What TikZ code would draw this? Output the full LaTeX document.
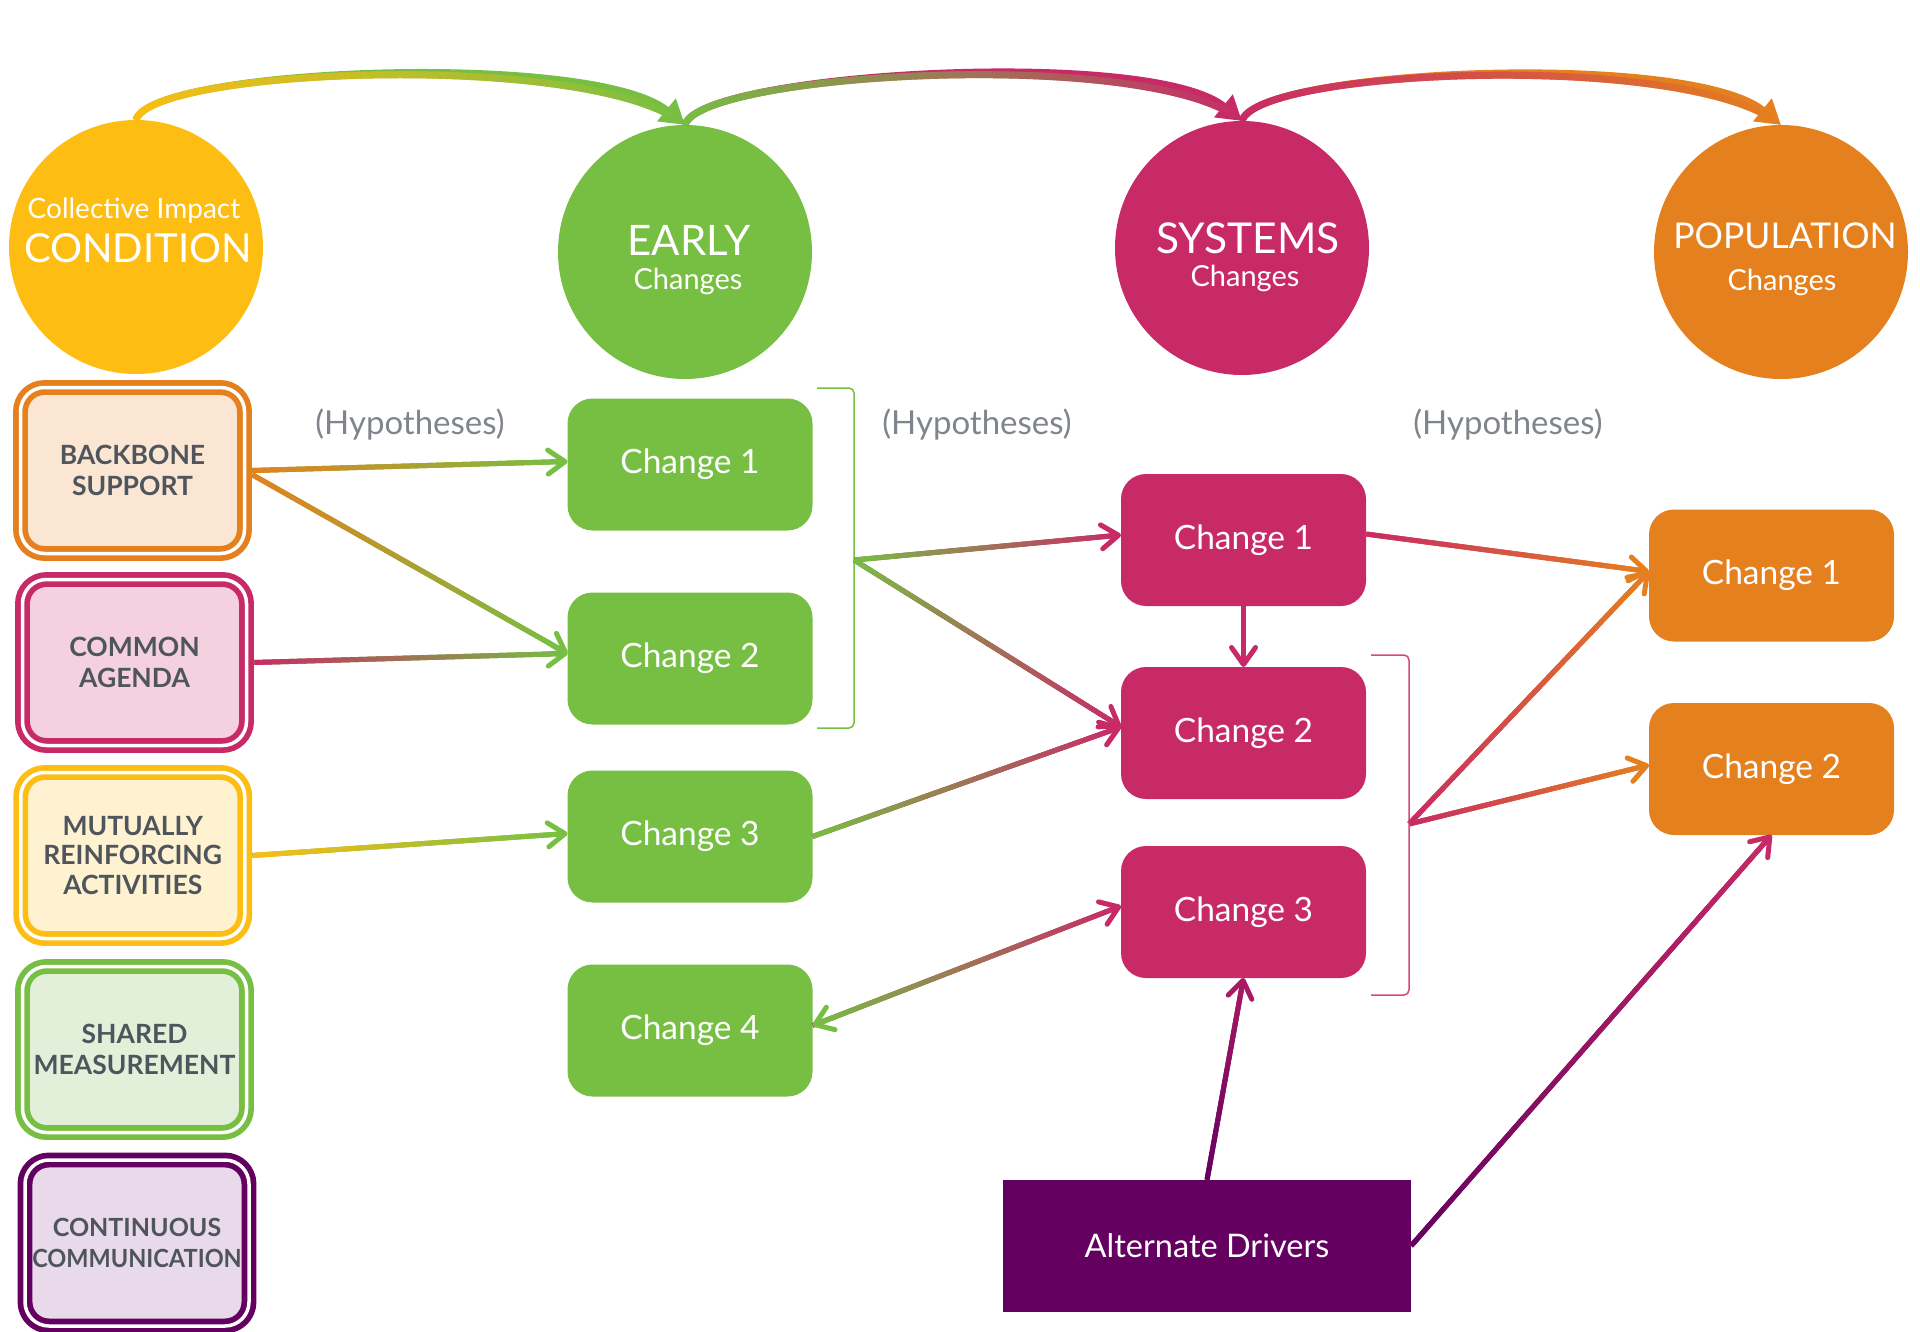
\documentclass[tikz,border=0pt]{standalone}
\usepackage{fontspec}
\usepackage{graphicx}
\setmainfont{Lato}
\usetikzlibrary{arrows.meta,decorations.markings,calc}
\definecolor{yellowC}{HTML}{FDBD13}
\definecolor{greenC}{HTML}{76BF43}
\definecolor{magentaC}{HTML}{C82A67}
\definecolor{orangeC}{HTML}{E5801F}
\definecolor{purpleC}{HTML}{630060}
\definecolor{bbFill}{HTML}{FBE5D3}
\definecolor{caFill}{HTML}{F5D1E0}
\definecolor{mrFill}{HTML}{FEF2D0}
\definecolor{smFill}{HTML}{E2F0DA}
\definecolor{ccFill}{HTML}{E8DAEA}
\definecolor{textC}{HTML}{4F555C}
\definecolor{hypC}{HTML}{80858D}
\definecolor{midPurple}{HTML}{A81A63}
\definecolor{brkPink}{HTML}{D4477F}
\begin{document}
\begin{tikzpicture}[x=1pt,y=-1pt,
  circ/.style={circle, minimum size=254pt, inner sep=0pt, outer sep=0pt},
  chg/.style={fill=#1, rounded corners=25pt, minimum width=245pt, minimum height=132pt,
    inner sep=0pt, outer sep=0pt, text=white, font=\fontsize{33.5pt}{40pt}\selectfont,
    text height=18pt, text depth=0pt},
  lbox/.style 2 args={draw=#1, fill=#2, double=white, double distance=3.5pt, line width=5.7pt,
    rounded corners=24pt, minimum width=224pt, minimum height=166pt, outer sep=7.5pt,
    align=center, text=textC, font=\bfseries\fontsize{26.5pt}{30.5pt}\selectfont},
  wt/.style={text=white, inner sep=0pt, anchor=base},
  hyp/.style={text=hypC, inner sep=0pt, anchor=base, font=\fontsize{33pt}{36pt}\selectfont},
  barb/.tip={Straight Barb[length=17pt,width=24pt,round]},
  arr/.style={line width=5pt, -barb},
  arcarr/.style={line width=7pt, -{Triangle[length=24pt,width=28pt]}},
  gradpath/.style n args={5}{% start col, end col, width, start pos, end pos
    decoration={markings,
      mark=between positions #4 and #5 step 1.5pt with {%
        \pgfmathsetmacro\gpct{(\pgfkeysvalueof{/pgf/decoration/mark info/distance from start}/\pgfdecoratedpathlength)*100}%
        \draw[line width=#3, draw={#2!\gpct!#1}] (-1.2pt,0pt) -- (1.2pt,0pt);
      }},
    decorate}
]
\useasboundingbox (0,0) rectangle (1920,1332);

% circles
\node[circ, fill=yellowC] (cond) at (136,247) {};
\node[circ, fill=greenC] (early) at (685,252) {};
\node[circ, fill=magentaC] (sys) at (1242,248) {};
\node[circ, fill=orangeC] (pop) at (1781,252) {};

\node[wt, font=\fontsize{28pt}{30pt}\selectfont] (tci) at (134,218.5) {Collective Impact};
\node[wt, font=\fontsize{40pt}{44pt}\selectfont] (tcond) at (138,262.5) {CONDITION};
\node[wt, font=\fontsize{42pt}{44pt}\selectfont] (tearly) at (689,256) {EARLY};
\node[wt, font=\fontsize{29pt}{32pt}\selectfont] (tec) at (688,290) {Changes};
\node[wt, font=\fontsize{42.5pt}{44pt}\selectfont] (tsys) at (1248,253.5) {SYSTEMS};
\node[wt, font=\fontsize{29pt}{32pt}\selectfont] (tsc) at (1245,287) {Changes};
\node[wt, font=\fontsize{35.5pt}{40pt}\selectfont] (tpop) at (1785,249) {POPULATION};
\node[wt, font=\fontsize{29pt}{32pt}\selectfont] (tpc) at (1782,291) {Changes};

% hypotheses
\node[hyp] (h1) at (410,434) {(Hypotheses)};
\node[hyp] (h2) at (977,434) {(Hypotheses)};
\node[hyp] (h3) at (1508,434) {(Hypotheses)};

% left boxes
\node[lbox={orangeC}{bbFill}] (bb) at (132.5,470.5) {BACKBONE\\SUPPORT};
\node[lbox={magentaC}{caFill}] (ca) at (134.5,662.5) {COMMON\\AGENDA};
\node[lbox={yellowC}{mrFill}, font=\bfseries\fontsize{26.5pt}{29.5pt}\selectfont] (mr) at (132.75,855.5) {MUTUALLY\\REINFORCING\\ACTIVITIES};
\node[lbox={greenC}{smFill}] (sm) at (134.5,1049.5) {SHARED\\MEASUREMENT};
\node[lbox={purpleC}{ccFill}, font=\bfseries\fontsize{25pt}{30.5pt}\selectfont] (cc) at (137,1243) {CONTINUOUS\\\scalebox{0.94}[1]{COMMUNICATION}};

% early changes
\node[chg=greenC] (c1) at (690,464.5) {Change 1};
\node[chg=greenC] (c2) at (690,658.5) {Change 2};
\node[chg=greenC] (c3) at (690,836.5) {Change 3};
\node[chg=greenC] (c4) at (690,1030.5) {Change 4};
% systems changes
\node[chg=magentaC] (s1) at (1243.5,540) {Change 1};
\node[chg=magentaC] (s2) at (1243.5,733) {Change 2};
\node[chg=magentaC] (s3) at (1243.5,912) {Change 3};
% population changes
\node[chg=orangeC] (p1) at (1771.5,575.5) {Change 1};
\node[chg=orangeC] (p2) at (1771.5,769) {Change 2};
% alternate drivers
\node[fill=purpleC, minimum width=408pt, minimum height=132pt, inner sep=0pt, outer sep=0pt,
  text=white, font=\fontsize{32.5pt}{36pt}\selectfont, text height=23pt, text depth=0pt]
  (ad) at (1207,1246) {Alternate Drivers};

% brackets
\coordinate (b1t) at (817,388);
\coordinate (b1b) at (817,728);
\coordinate (b1m) at (854,560);
\draw[greenC, line width=1.5pt, rounded corners=5pt] (b1t) -- (854,388) -- (854,728) -- (b1b);
\coordinate (b2t) at (1371,655);
\coordinate (b2b) at (1371,995);
\coordinate (b2m) at (1409,824);
\draw[brkPink, line width=1.5pt, rounded corners=5pt] (b2t) -- (1409,655) -- (1409,995) -- (b2b);

% target coordinates
\coordinate (c1in) at ($(c1.west)+(0,-3)$);
\coordinate (c2in) at ($(c2.west)+(0,-5)$);
\coordinate (c3in) at ($(c3.west)+(0,-3)$);
\coordinate (c4in) at ($(c4.east)+(0,-5)$);
\coordinate (s1in) at ($(s1.west)+(0,-5)$);
\coordinate (s2in) at ($(s2.west)+(0,-6)$);
\coordinate (s3in) at ($(s3.west)+(0,-6)$);
\coordinate (s1out) at ($(s1.east)+(0,-6)$);
\coordinate (p1in) at ($(p1.west)+(0,-4)$);
\coordinate (p2in) at ($(p2.west)+(0,-4)$);
\coordinate (bbout) at ($(bb.east)+(0,4)$);

% top arcs
\draw[arcarr, greenC] (cond.north) .. controls +(14,-52) and +(-92,-75) .. (early.north);
\path[gradpath={yellowC}{greenC}{7pt}{1pt}{-14pt}] (cond.north) .. controls +(14,-52) and +(-92,-75) .. (early.north);
\draw[arcarr, magentaC] (early.north) .. controls +(14,-52) and +(-92,-75) .. (sys.north);
\path[gradpath={greenC}{magentaC}{7pt}{1pt}{-14pt}] (early.north) .. controls +(14,-52) and +(-92,-75) .. (sys.north);
\draw[arcarr, orangeC] (sys.north) .. controls +(14,-52) and +(-92,-75) .. (pop.north);
\path[gradpath={magentaC}{orangeC}{7pt}{1pt}{-14pt}] (sys.north) .. controls +(14,-52) and +(-92,-75) .. (pop.north);

% gradient arrows
\newcommand\garrow[4]{%
  \draw[arr, #4] (#1) -- (#2);
  \path[gradpath={#3}{#4}{5pt}{1.5pt}{-6pt}] (#1) -- (#2);
}
\garrow{bb.east}{c1in}{orangeC}{greenC}
\garrow{bbout}{c2in}{orangeC}{greenC}
\garrow{ca.east}{c2in}{magentaC}{greenC}
\garrow{mr.east}{c3in}{yellowC}{greenC}
\garrow{b1m}{s1in}{greenC}{magentaC}
\garrow{b1m}{s2in}{greenC}{magentaC}
\garrow{c3.east}{s2in}{greenC}{magentaC}
\garrow{s1out}{p1in}{magentaC}{orangeC}
\garrow{b2m}{p1in}{magentaC}{orangeC}
\garrow{b2m}{p2in}{magentaC}{orangeC}
\garrow{ad.north}{s3.south}{purpleC}{midPurple}
\garrow{ad.east}{p2.south}{purpleC}{magentaC}
% double-headed
\draw[arr, magentaC] (c4in) -- (s3in);
\draw[line width=5pt, greenC, barb-] (c4in) -- ($(c4in)!30pt!(s3in)$);
\path[gradpath={greenC}{magentaC}{5pt}{6pt}{-6pt}] (c4in) -- (s3in);
% straight
\draw[arr, magentaC] (s1.south) -- (s2.north);
\end{tikzpicture}
\end{document}
